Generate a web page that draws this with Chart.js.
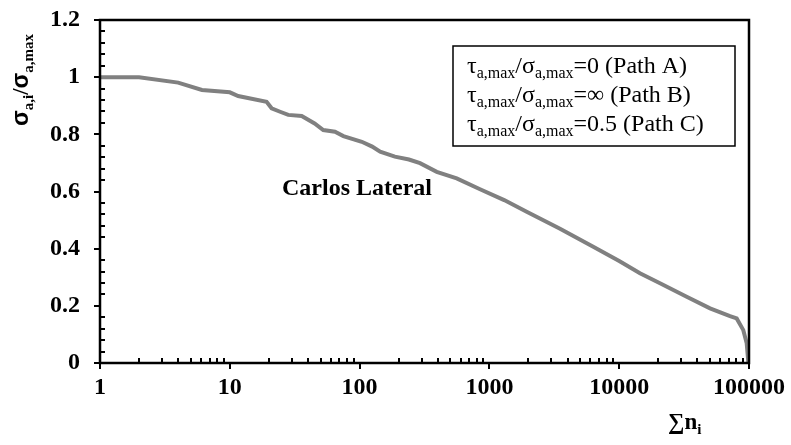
<!DOCTYPE html>
<html lang="en">
<head>
  <meta charset="UTF-8" />
  <title>Carlos Lateral</title>
  <script src="https://cdn.jsdelivr.net/npm/chart.js"></script>
  <style>
    body {
      margin: 0;
      background: #fff;
    }
    #wrap {
      width: 791px;
      height: 445px;
      position: relative;
    }
  </style>
</head>
<body>
  <div id="wrap"><canvas id="chart"></canvas></div>

  <script>
    // cumulative cycles (x, log) and normalised amplitude (y)
    const cycles = [1, 2, 4, 6.1, 10, 11.6, 19.2, 21, 24.4, 28.2, 35.8, 45, 52.5, 64.6, 75, 104, 125, 144, 187,
      240, 292, 393, 560, 847, 1300, 1937, 3500, 6310, 10000, 14450, 20620, 33100, 50100, 71400, 80400, 90400, 96000, 98900];
    const ratio = [1, 1, 0.981, 0.955, 0.947, 0.934, 0.914, 0.891, 0.879, 0.868, 0.864, 0.838, 0.815, 0.809, 0.794, 0.774, 0.757, 0.739, 0.722,
      0.712, 0.699, 0.669, 0.646, 0.608, 0.570, 0.529, 0.470, 0.407, 0.357, 0.314, 0.279, 0.232, 0.191, 0.164, 0.156, 0.115, 0.069, 0];

    const yTicks = [0, 0.2, 0.4, 0.6, 0.8, 1, 1.2];
    const xDecades = [1, 10, 100, 1000, 10000, 100000];

    const legendLines = [
      [['τ'], ['a,max', 'sub'], ['/σ'], ['a,max', 'sub'], ['=0 (Path A)']],
      [['τ'], ['a,max', 'sub'], ['/σ'], ['a,max', 'sub'], ['=∞ (Path B)']],
      [['τ'], ['a,max', 'sub'], ['/σ'], ['a,max', 'sub'], ['=0.5 (Path C)']]
    ];

    const SERIF = "'Liberation Serif', 'Times New Roman', serif";
    const SANS = "'Liberation Sans', Arial, sans-serif";

    // draw a run of text with subscripts, returns end x
    function rich(ctx, x, y, parts, size, weight, family) {
      parts.forEach(([t, kind]) => {
        const sub = kind === 'sub';
        const s = sub ? Math.round(size * 0.65) : size;
        const fam = kind === 'sans' ? SANS : (family || SERIF);
        ctx.font = weight + ' ' + s + 'px ' + fam;
        ctx.fillText(t, x, sub ? y + size * 0.22 : y);
        x += ctx.measureText(t).width;
      });
      return x;
    }

    const decor = {
      id: 'decor',
      afterDraw(chart) {
        const { ctx, chartArea: a, scales: { x, y } } = chart;
        ctx.save();
        ctx.strokeStyle = '#000';

        // plot frame
        ctx.lineWidth = 2.5;
        ctx.strokeRect(a.left, a.top, a.right - a.left, a.bottom - a.top);

        // tick marks: major outward, minor inward
        ctx.lineWidth = 2;
        ctx.beginPath();
        yTicks.forEach(v => {
          const p = Math.round(y.getPixelForValue(v));
          ctx.moveTo(a.left - 6, p); ctx.lineTo(a.left, p);
        });
        for (let i = 1; i < 30; i++) {
          if (i % 5 === 0) continue;
          const p = Math.round(y.getPixelForValue(i * 0.04));
          ctx.moveTo(a.left, p); ctx.lineTo(a.left + 5, p);
        }
        xDecades.forEach(v => {
          const p = Math.round(x.getPixelForValue(v));
          ctx.moveTo(p, a.bottom); ctx.lineTo(p, a.bottom + 6);
        });
        xDecades.slice(0, -1).forEach(d => {
          for (let k = 2; k <= 9; k++) {
            const p = Math.round(x.getPixelForValue(k * d));
            ctx.moveTo(p, a.bottom); ctx.lineTo(p, a.bottom - 5);
          }
        });
        ctx.stroke();

        ctx.fillStyle = '#000';
        ctx.textBaseline = 'alphabetic';
        ctx.textAlign = 'left';

        // legend text box
        ctx.lineWidth = 1.5;
        ctx.strokeRect(453, 46, 282, 100);
        legendLines.forEach((parts, i) => {
          rich(ctx, 467, 73 + i * 29, parts, 24, 'normal');
        });

        // specimen label
        ctx.font = 'bold 24px ' + SERIF;
        ctx.fillText('Carlos Lateral', 282, 195);

        // x axis title
        rich(ctx, 668, 429, [['∑'], ['n'], ['i', 'sub']], 23, 'bold');

        // y axis title (rotated)
        ctx.translate(28, 126);
        ctx.rotate(-Math.PI / 2);
        rich(ctx, 0, 0, [['σ', 'sans'], ['a,i', 'sub'], ['/'], ['σ', 'sans'], ['a,max', 'sub']], 23, 'bold');
        ctx.restore();
      }
    };

    const tickFont = { family: SERIF, size: 24, weight: 'bold' };

    new Chart(document.getElementById('chart'), {
      type: 'scatter',
      data: {
        datasets: [{
          data: cycles.map((n, i) => ({ x: n, y: ratio[i] })),
          showLine: true,
          borderColor: '#808080',
          borderWidth: 4,
          pointRadius: 0,
          tension: 0
        }]
      },
      options: {
        responsive: true,
        maintainAspectRatio: false,
        animation: false,
        layout: { padding: { top: 20, right: 42, left: 0, bottom: 0 } },
        plugins: { legend: { display: false }, tooltip: { enabled: false } },
        scales: {
          x: {
            type: 'logarithmic',
            min: 1,
            max: 100000,
            grid: { display: false, drawTicks: false },
            border: { display: false },
            afterFit: s => { s.height = 82; s.paddingLeft = 0; s.paddingRight = 0; },
            ticks: {
              autoSkip: false,
              maxRotation: 0,
              padding: 10,
              color: '#000',
              font: tickFont,
              callback: v => xDecades.includes(v) ? String(v) : ''
            }
          },
          y: {
            min: 0,
            max: 1.2,
            grid: { display: false, drawTicks: false },
            border: { display: false },
            afterFit: s => { s.width = 100; s.paddingTop = 0; s.paddingBottom = 0; },
            ticks: {
              stepSize: 0.2,
              padding: 20,
              color: '#000',
              font: tickFont,
              callback: v => String(+v.toFixed(1))
            }
          }
        }
      },
      plugins: [decor]
    });
  </script>
</body>
</html>
